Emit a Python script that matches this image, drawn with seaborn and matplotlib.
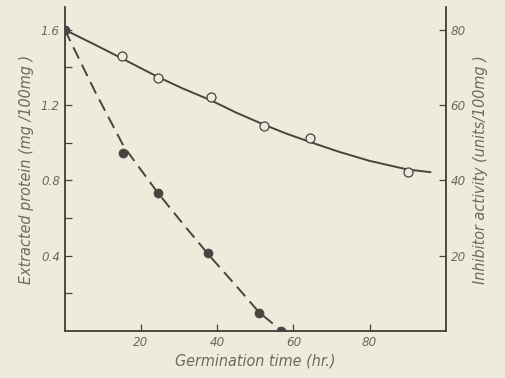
import numpy as np
import pandas as pd
import seaborn as sns
import matplotlib.pyplot as plt

# values
prot_time = [0, 15.3, 24.4, 37.7, 51, 56.8]
prot_value = [1.6, 0.947, 0.734, 0.415, 0.096, 0.0]
prot_curve_time = [0, 8, 15.5, 24.4, 31, 38, 45, 51, 57]
prot_curve_value = [1.6, 1.27, 0.98, 0.735, 0.57, 0.40, 0.24, 0.10, 0.0]

inhib_time = [15, 24.4, 38.3, 52.3, 64.4, 90]
inhib_value = [73.1, 67.3, 62.2, 54.5, 51.3, 42.3]
inhib_curve_time = [0, 8, 15, 24.4, 31, 38.3, 45, 52.3, 58, 64.4, 72, 80, 90, 96]
inhib_curve_value = [80, 76.0, 72.4, 67.5, 64.4, 61.3, 58.0, 54.8, 52.5, 50.2,
                     47.6, 45.2, 42.9, 42.2]

left_ticks = [0.4, 0.8, 1.2, 1.6]
left_minor = [0.2, 0.6, 1.0, 1.4]
right_ticks = [20, 40, 60, 80]
x_ticks = [20, 40, 60, 80]

paper = "#efebdc"
ink = "#45453f"
txt = "#6a6a62"

sns.set_style("ticks")
plt.rcParams['font.family'] = ['DejaVu Sans']
plt.rcParams['font.style'] = 'italic'
plt.rcParams['font.stretch'] = 'condensed'

fig = plt.figure(figsize=(5.06, 3.78), dpi=100, facecolor=paper)
ax = fig.add_axes([0.128, 0.124, 0.753, 0.857])
ax.set_facecolor(paper)
ax2 = ax.twinx()

df_pc = pd.DataFrame({"t": prot_curve_time, "v": prot_curve_value})
df_p = pd.DataFrame({"t": prot_time, "v": prot_value})
df_ic = pd.DataFrame({"t": inhib_curve_time, "v": inhib_curve_value})
df_i = pd.DataFrame({"t": inhib_time, "v": inhib_value})

# protein: dashed curve + filled dots
sns.lineplot(data=df_pc, x="t", y="v", ax=ax, color=ink, lw=1.4,
             estimator=None, sort=False)
ax.lines[-1].set_dashes([6.5, 3.5])
sns.scatterplot(data=df_p, x="t", y="v", ax=ax, color=ink, s=42,
                edgecolor=ink, zorder=5)

# inhibitor: solid curve + open dots
sns.lineplot(data=df_ic, x="t", y="v", ax=ax2, color=ink, lw=1.4,
             estimator=None, sort=False)
sns.scatterplot(data=df_i, x="t", y="v", ax=ax2, color=paper, s=42,
                edgecolor=ink, linewidth=0.9, zorder=5)

ax.set_xlim(0, 100)
ax.set_ylim(0, 1.72)
ax2.set_ylim(0, 86)

ax.set_xticks(x_ticks)
ax.set_yticks(left_ticks)
ax.set_yticks(left_minor, minor=True)
ax2.set_yticks(right_ticks)

ax.tick_params(direction="in", length=5, width=0.9, color=ink,
               labelcolor=txt, labelsize=9.5)
ax.tick_params(which="minor", direction="in", length=5, width=0.9, color=ink)
ax2.tick_params(direction="in", length=5, width=0.9, color=ink,
                labelcolor=txt, labelsize=9.5)

for a in (ax, ax2):
    a.spines["top"].set_visible(False)
    for s in ("left", "right", "bottom"):
        a.spines[s].set_color(ink)
        a.spines[s].set_linewidth(1.1)

ax.set_xlabel("Germination time (hr.)", color=txt, fontsize=11.5, labelpad=3)
ax.set_ylabel("Extracted protein (mg /100mg )", color=txt, fontsize=11.5, labelpad=5)
ax2.set_ylabel("Inhibitor activity (units/100mg )", color=txt, fontsize=11.5, labelpad=5)

plt.savefig("out.png", dpi=100, facecolor=paper)
